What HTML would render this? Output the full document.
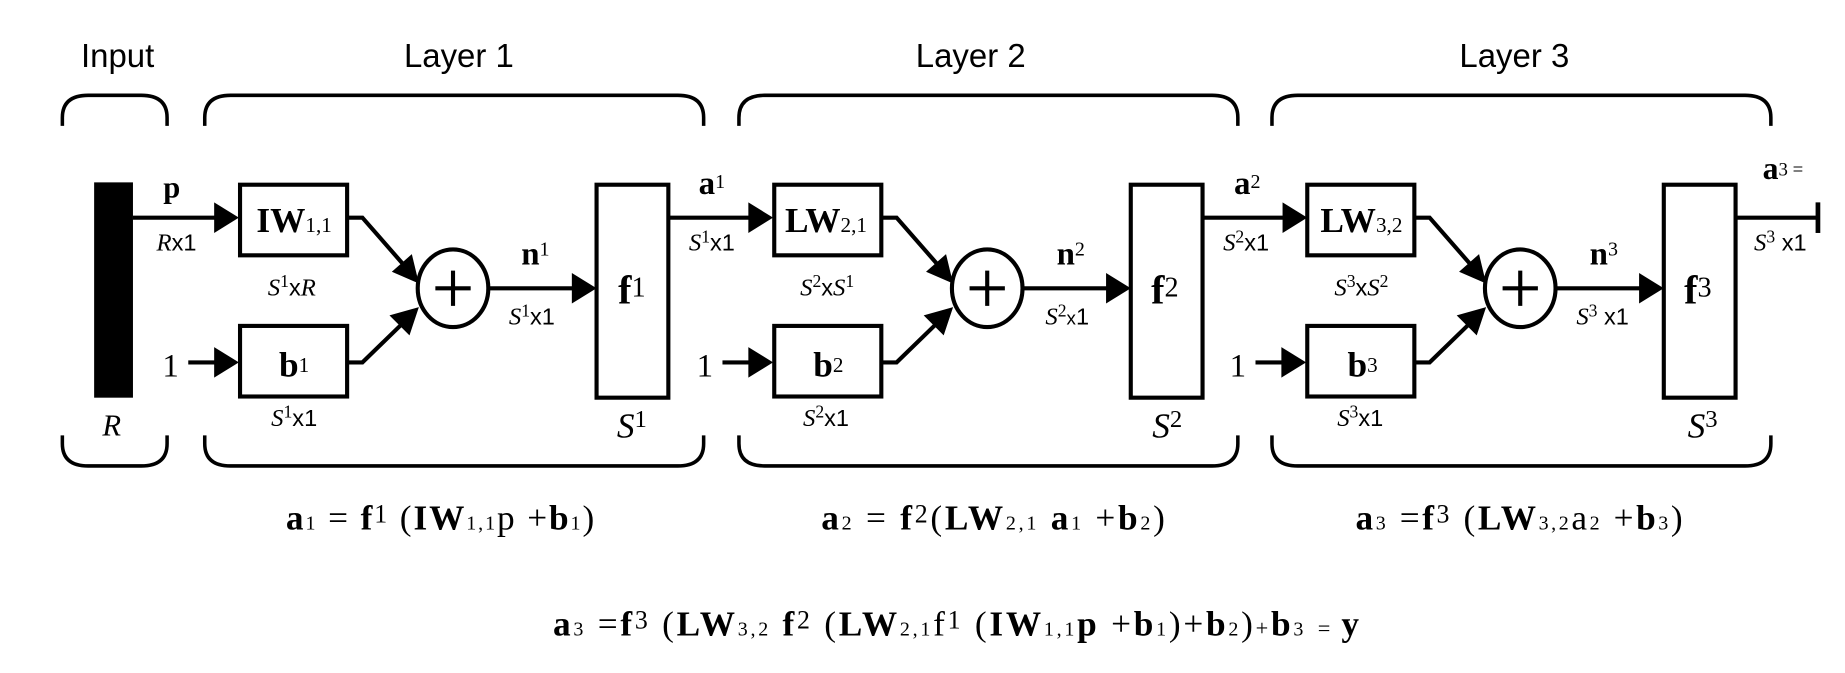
<!DOCTYPE html>
<html><head><meta charset="utf-8"><style>
html,body{margin:0;padding:0;background:#fff;}
svg{display:block;}
.s{font-family:"Liberation Sans",sans-serif;}
.r{font-family:"Liberation Serif",serif;}
.b{font-weight:bold;}
</style></head><body>
<svg width="1845" height="673" viewBox="0 0 1568 572" preserveAspectRatio="none" xmlns="http://www.w3.org/2000/svg">
<rect width="1568" height="572" fill="#fff"/>
<g class="s" font-size="28" text-anchor="middle">
<text x="100" y="57">Input</text>
<text x="390" y="57">Layer 1</text>
<text x="825" y="57">Layer 2</text>
<text x="1287" y="57">Layer 3</text>
</g>
<g fill="none" stroke="#000" stroke-width="3">
<path d="M53,107 V100 Q53,81 75,81 H120 Q142,81 142,100 V107"/>
<path d="M53,370 V377 Q53,396 75,396 H120 Q142,396 142,377 V370"/>
</g>
<rect x="80" y="155" width="33" height="183" fill="#000"/>
<text class="r b" x="146" y="168" font-size="26" text-anchor="middle">p</text>
<text class="r" x="150" y="213" font-size="21" text-anchor="middle"><tspan font-style="italic">R</tspan><tspan class="s" font-size="20">x1</tspan></text>
<text class="r" x="95" y="370" font-size="26" font-style="italic" text-anchor="middle">R</text>
<line x1="113" y1="185" x2="185" y2="185" stroke="#000" stroke-width="3.5"/>
<polygon points="182,172 203,185 182,198"/>

<g id="L">
<g fill="none" stroke="#000" stroke-width="3">
<path d="M174,107 V100 Q174,81 196,81 H576 Q598,81 598,100 V107"/>
<path d="M174,370 V377 Q174,396 196,396 H576 Q598,396 598,377 V370"/>
</g>
<g fill="#fff" stroke="#000" stroke-width="3.5">
<rect x="204" y="157" width="91" height="60"/>
<rect x="204" y="277" width="91" height="60"/>
<rect x="507" y="157" width="61" height="181"/>
<ellipse cx="385" cy="245" rx="30" ry="33"/>
</g>
<g stroke="#000" stroke-width="3.5" fill="none">
<path d="M370,245 h30 M385,230 v30"/>
<line x1="160" y1="308" x2="185" y2="308"/>
<polyline points="295,185 308,185 343,225"/>
<polyline points="295,308 308,308 342,275"/>
<line x1="415" y1="245" x2="487" y2="245"/>
</g>
<polygon points="182,295 203,308 182,321"/>
<polygon points="333,231 356,241 350,216"/>
<polygon points="331,268 356,261 348,285"/>
<polygon points="486,232 507,245 486,258"/>
<text class="r" x="145" y="320" font-size="28" text-anchor="middle">1</text>
</g>
<use href="#L" transform="translate(454,0)"/>
<use href="#L" transform="translate(907,0)"/>

<g stroke="#000" stroke-width="3.5">
<line x1="568" y1="185" x2="640" y2="185"/>
<line x1="1022" y1="185" x2="1094" y2="185"/>
<line x1="1475" y1="185" x2="1545" y2="185"/>
<line x1="1545" y1="172" x2="1545" y2="198" stroke-width="4"/>
</g>
<polygon points="636,172 657,185 636,198"/>
<polygon points="1090,172 1111,185 1090,198"/>

<g class="r" text-anchor="middle">
<text x="250" y="197" font-size="30" class="r b">IW<tspan font-size="18" font-weight="normal">1,1</tspan></text>
<text x="250" y="320" font-size="30" class="r b">b<tspan font-size="18" font-weight="normal" dy="-4">1</tspan></text>
<text x="248" y="251" font-size="21"><tspan font-style="italic">S</tspan><tspan font-size="15" dy="-7">1</tspan><tspan class="s" font-size="20" dy="7">x</tspan><tspan font-style="italic">R</tspan></text>
<text x="250" y="362" font-size="21"><tspan font-style="italic">S</tspan><tspan font-size="15" dy="-7">1</tspan><tspan class="s" font-size="20" dy="7">x1</tspan></text>
<text x="455" y="225" font-size="28" class="r b">n<tspan font-size="17" font-weight="normal" dy="-8">1</tspan></text>
<text x="452" y="276" font-size="21"><tspan font-style="italic">S</tspan><tspan font-size="15" dy="-7">1</tspan><tspan class="s" font-size="20" dy="7">x1</tspan></text>
<text x="537" y="258" font-size="34" class="r b">f<tspan font-size="24" font-weight="normal" dy="-6">1</tspan></text>
<text x="537" y="372" font-size="30"><tspan font-style="italic">S</tspan><tspan font-size="21" dy="-9">1</tspan></text>
<text x="605" y="165" font-size="28" class="r b">a<tspan font-size="17" font-weight="normal" dy="-5">1</tspan></text>
<text x="605" y="213" font-size="21"><tspan font-style="italic">S</tspan><tspan font-size="15" dy="-7">1</tspan><tspan class="s" font-size="20" dy="7">x1</tspan></text>
</g>
<g class="r" text-anchor="middle">
<text x="702" y="197" font-size="30" class="r b">LW<tspan font-size="18" font-weight="normal">2,1</tspan></text>
<text x="704" y="320" font-size="30" class="r b">b<tspan font-size="18" font-weight="normal" dy="-4">2</tspan></text>
<text x="703" y="251" font-size="21"><tspan font-style="italic">S</tspan><tspan font-size="15" dy="-7">2</tspan><tspan class="s" font-size="20" dy="7">x</tspan><tspan font-style="italic">S</tspan><tspan font-size="15" dy="-7">1</tspan></text>
<text x="702" y="362" font-size="21"><tspan font-style="italic">S</tspan><tspan font-size="15" dy="-7">2</tspan><tspan class="s" font-size="20" dy="7">x1</tspan></text>
<text x="910" y="225" font-size="28" class="r b">n<tspan font-size="17" font-weight="normal" dy="-8">2</tspan></text>
<text x="907" y="276" font-size="21"><tspan font-style="italic">S</tspan><tspan font-size="15" dy="-7">2</tspan><tspan class="s" font-size="16" dy="7">x</tspan><tspan class="s" font-size="20">1</tspan></text>
<text x="990" y="258" font-size="34" class="r b">f<tspan font-size="24" font-weight="normal" dy="-6">2</tspan></text>
<text x="992" y="372" font-size="30"><tspan font-style="italic">S</tspan><tspan font-size="21" dy="-9">2</tspan></text>
<text x="1060" y="165" font-size="28" class="r b">a<tspan font-size="17" font-weight="normal" dy="-5">2</tspan></text>
<text x="1059" y="213" font-size="21"><tspan font-style="italic">S</tspan><tspan font-size="15" dy="-7">2</tspan><tspan class="s" font-size="20" dy="7">x1</tspan></text>
</g>
<g class="r" text-anchor="middle">
<text x="1157" y="197" font-size="30" class="r b">LW<tspan font-size="18" font-weight="normal">3,2</tspan></text>
<text x="1158" y="320" font-size="30" class="r b">b<tspan font-size="18" font-weight="normal" dy="-4">3</tspan></text>
<text x="1157" y="251" font-size="21"><tspan font-style="italic">S</tspan><tspan font-size="15" dy="-7">3</tspan><tspan class="s" font-size="20" dy="7">x</tspan><tspan font-style="italic">S</tspan><tspan font-size="15" dy="-7">2</tspan></text>
<text x="1156" y="362" font-size="21"><tspan font-style="italic">S</tspan><tspan font-size="15" dy="-7">3</tspan><tspan class="s" font-size="20" dy="7">x1</tspan></text>
<text x="1363" y="225" font-size="28" class="r b">n<tspan font-size="17" font-weight="normal" dy="-8">3</tspan></text>
<text x="1362" y="276" font-size="21"><tspan font-style="italic">S</tspan><tspan font-size="15" dy="-7">3</tspan><tspan class="s" font-size="20" dy="7"> x1</tspan></text>
<text x="1443" y="258" font-size="34" class="r b">f<tspan font-size="24" font-weight="normal" dy="-6">3</tspan></text>
<text x="1447" y="372" font-size="30"><tspan font-style="italic">S</tspan><tspan font-size="21" dy="-9">3</tspan></text>
<text x="1513" y="213" font-size="21"><tspan font-style="italic">S</tspan><tspan font-size="15" dy="-7">3</tspan><tspan class="s" font-size="20" dy="7"> x1</tspan></text>
</g>
<text class="r" x="1498" y="152" font-size="27"><tspan font-weight="bold">a</tspan><tspan font-size="16" dy="-3">3 = </tspan></text>

<g class="r" font-size="30">
<text x="243" y="450" textLength="262" lengthAdjust="spacing"><tspan font-weight="bold">a</tspan><tspan font-size="17">1</tspan> = <tspan font-weight="bold">f</tspan><tspan font-size="22" dy="-6">1</tspan><tspan dy="6"> (</tspan><tspan font-weight="bold">IW</tspan><tspan font-size="17">1,1</tspan>p +<tspan font-weight="bold">b</tspan><tspan font-size="17">1</tspan>)</text>
<text x="698" y="450" textLength="292" lengthAdjust="spacing"><tspan font-weight="bold">a</tspan><tspan font-size="17">2</tspan> = <tspan font-weight="bold">f</tspan><tspan font-size="22" dy="-6">2</tspan><tspan dy="6">(</tspan><tspan font-weight="bold">LW</tspan><tspan font-size="17">2,1</tspan> <tspan font-weight="bold">a</tspan><tspan font-size="17">1</tspan> +<tspan font-weight="bold">b</tspan><tspan font-size="17">2</tspan>)</text>
<text x="1152" y="450" textLength="278" lengthAdjust="spacing"><tspan font-weight="bold">a</tspan><tspan font-size="17">3</tspan> =<tspan font-weight="bold">f</tspan><tspan font-size="22" dy="-6">3</tspan><tspan dy="6"> (</tspan><tspan font-weight="bold">LW</tspan><tspan font-size="17">3,2</tspan>a<tspan font-size="17">2</tspan> +<tspan font-weight="bold">b</tspan><tspan font-size="17">3</tspan>)</text>
<text x="470" y="540" textLength="685" lengthAdjust="spacing"><tspan font-weight="bold">a</tspan><tspan font-size="17">3</tspan> =<tspan font-weight="bold">f</tspan><tspan font-size="22" dy="-6">3</tspan><tspan dy="6"> (</tspan><tspan font-weight="bold">LW</tspan><tspan font-size="17">3,2</tspan> <tspan font-weight="bold">f</tspan><tspan font-size="22" dy="-6">2</tspan><tspan dy="6"> (</tspan><tspan font-weight="bold">LW</tspan><tspan font-size="17">2,1</tspan>f<tspan font-size="22" dy="-6">1</tspan><tspan dy="6"> (</tspan><tspan font-weight="bold">IW</tspan><tspan font-size="17">1,1</tspan><tspan font-weight="bold">p</tspan> +<tspan font-weight="bold">b</tspan><tspan font-size="17">1</tspan>)+<tspan font-weight="bold">b</tspan><tspan font-size="17">2</tspan>)<tspan font-size="19">+</tspan><tspan font-weight="bold">b</tspan><tspan font-size="17">3</tspan> <tspan font-size="19"> = </tspan><tspan font-weight="bold">y</tspan></text>
</g>
</svg>
</body></html>
